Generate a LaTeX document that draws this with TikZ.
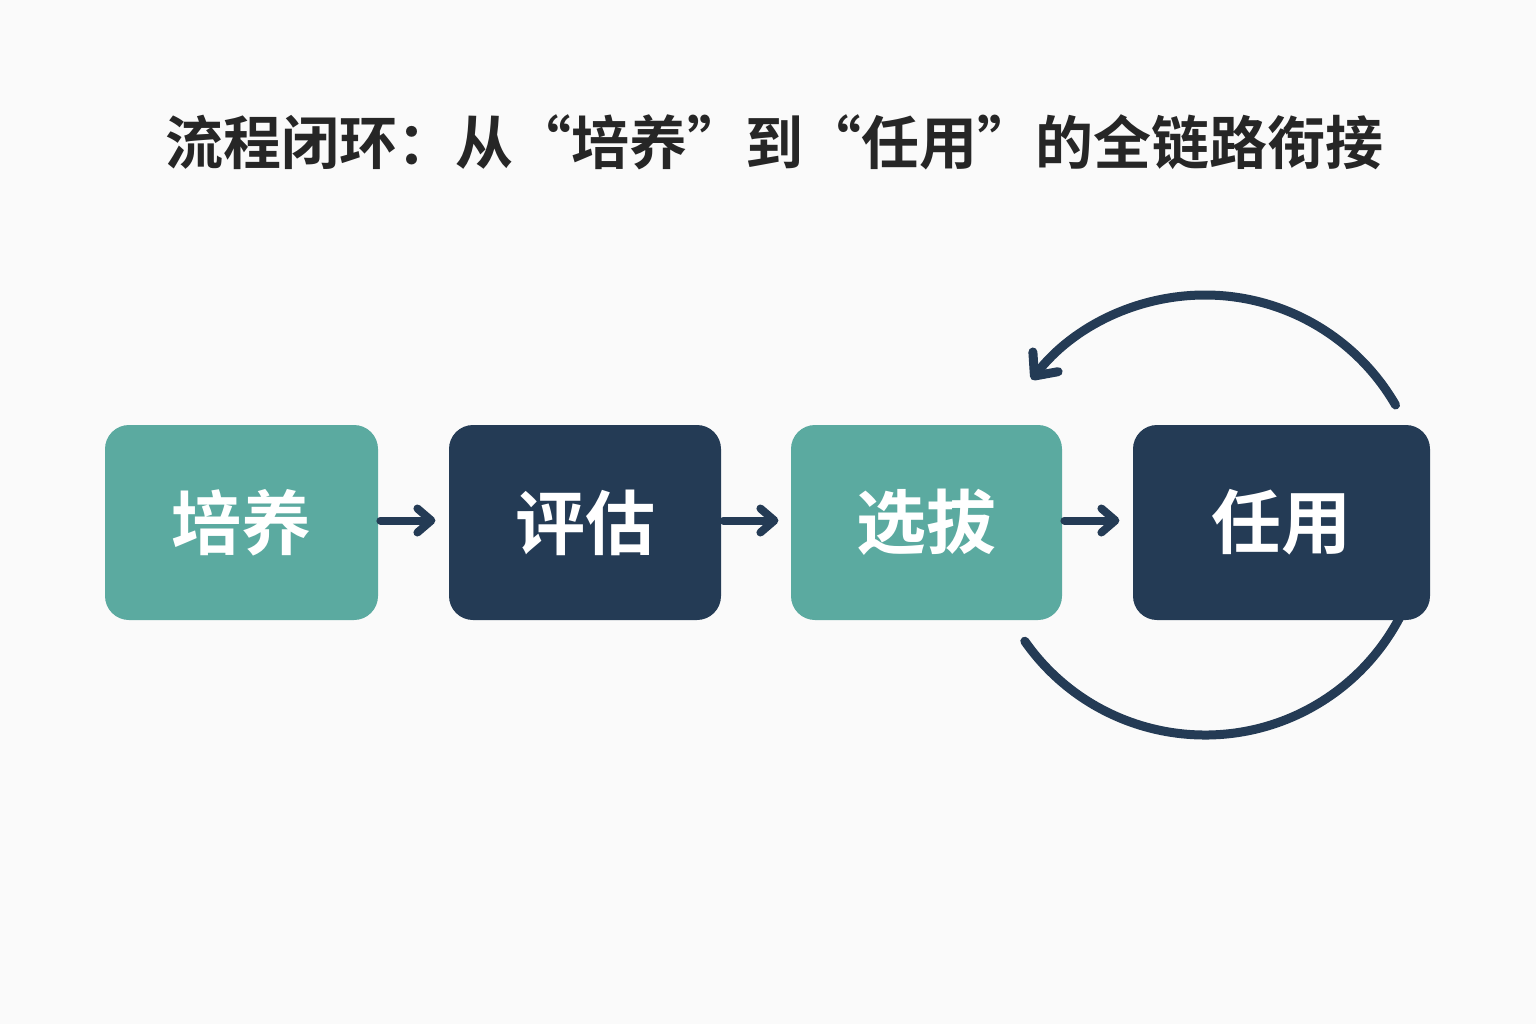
\documentclass[tikz,border=0pt]{standalone}
\usepackage{fontspec}
\newfontfamily\cjk{Noto Sans CJK SC Bold}
\usetikzlibrary{arrows.meta}
\definecolor{teal}{HTML}{5BAAA0}
\definecolor{navy}{HTML}{243B55}
\definecolor{bg}{HTML}{FAFAFA}
\begin{document}
\begin{tikzpicture}[x=0.5pt,y=-0.5pt,
  box/.style={rounded corners=12pt,minimum height=97.5pt,text=white,font=\cjk\fontsize{35}{40}\selectfont,inner sep=0pt},
  conn/.style={draw=navy,line width=4pt,-{Straight Barb[length=7pt,width=12pt,line cap=round,line join=round]},line cap=round}]
\fill[bg] (0,0) rectangle (1536,1024);
\node[font=\cjk\fontsize{29}{34}\selectfont,text=black!85,anchor=west] (title) at (158,142) {流程闭环：从“培养”到“任用”的全链路衔接};
\coordinate (ctr) at (1205,515);
\draw[navy,line width=4.5pt,line cap=round] (ctr) ++(145:220) arc[start angle=145,end angle=20,radius=220];
\node[box,fill=teal,minimum width=136.5pt] (a) at (241.5,522.5) {培养};
\node[box,fill=navy,minimum width=136pt] (b) at (585,522.5) {评估};
\node[box,fill=teal,minimum width=135.5pt] (c) at (926.5,522.5) {选拔};
\node[box,fill=navy,minimum width=148.5pt] (d) at (1281.5,522.5) {任用};
\draw[conn] (a.east) ++(2,-2) -- ++(55,0);
\draw[conn] (b.east) ++(2,-2) -- ++(55,0);
\draw[conn] (c.east) ++(2,-2) -- ++(55,0);
\draw[navy,line width=4.5pt,line cap=round,-{Straight Barb[length=9pt,width=16pt,line cap=round,line join=round]}] (ctr) ++(-30:220) arc[start angle=-30,end angle=-142,radius=220];
\end{tikzpicture}
\end{document}
